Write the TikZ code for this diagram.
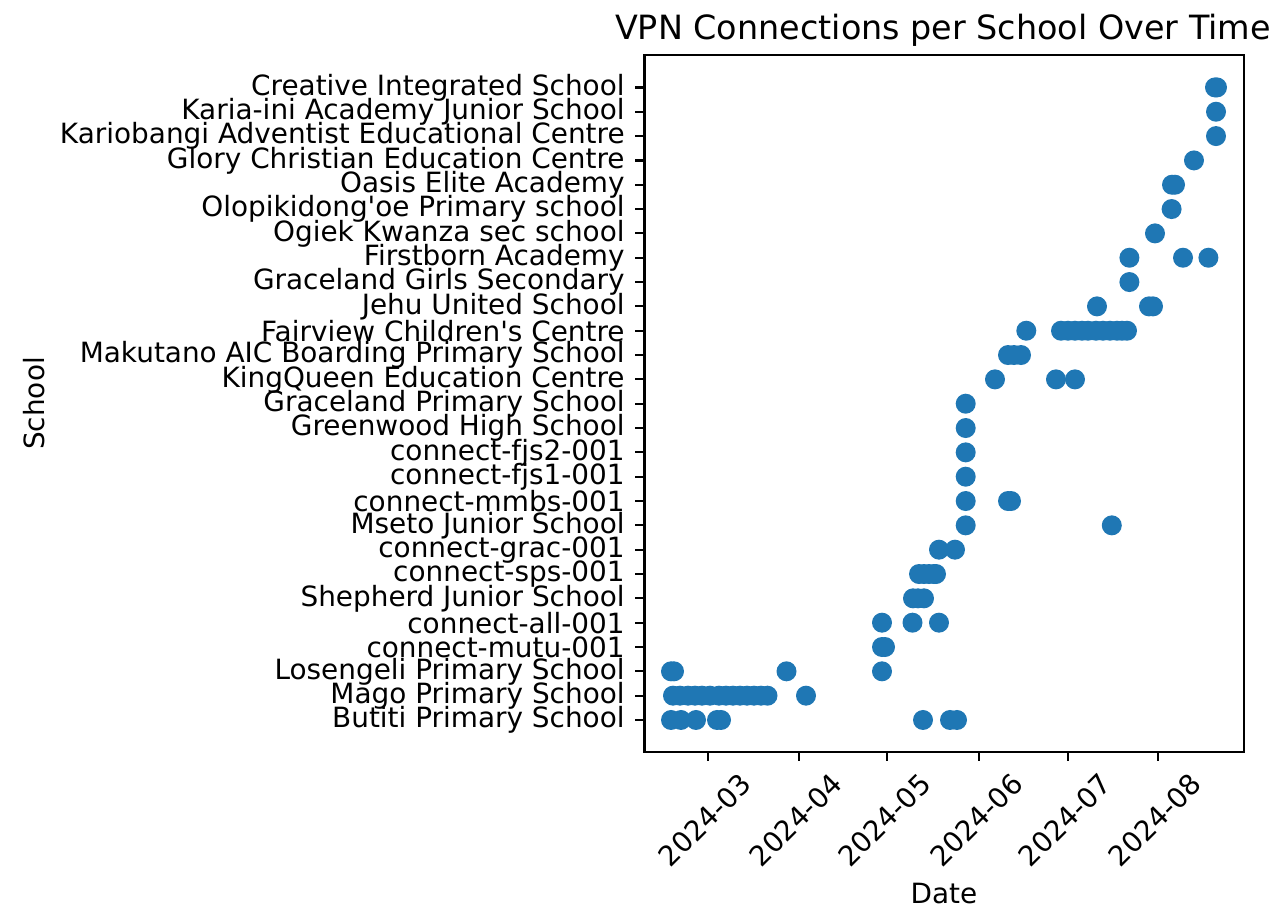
\documentclass[tikz,border=0pt]{standalone}
\usepackage{fontspec}
\setmainfont{DejaVu Sans}[Ligatures=TeXOff]
\definecolor{mplblue}{HTML}{1F77B4}
\begin{document}
\begin{tikzpicture}[x=0.5pt,y=-0.5pt,
  ticklab/.style={font=\fontsize{13.95}{16}\selectfont, inner sep=0pt, text=black},
  titlelab/.style={font=\fontsize{16.7}{19}\selectfont, inner sep=0pt},
  axisline/.style={line width=1.1pt, black},
  tickmark/.style={line width=1.1pt, black},
  datadot/.style={fill=mplblue}]
\path[use as bounding box] (0,0) rectangle (1282,908);
% axes frame
\coordinate (axNW) at (644.5,55);
\coordinate (axSE) at (1244,752);
% data points
\foreach \r/\xs in {
  26/{1215,1217},
  25/{1216},
  24/{1216},
  23/{1194},
  22/{1172,1175},
  21/{1171.6},
  20/{1155},
  19/{1129.4,1183,1208.4},
  18/{1129.4},
  17/{1097,1149,1153},
  16/{1026.3,1061,1068,1075,1082,1088,1096,1103,1110,1117,1122,1127},
  15/{1008,1014,1021},
  14/{995,1056,1075},
  13/{965.7},
  12/{965.7},
  11/{965.7},
  10/{965.7},
  9/{965.7,1008,1011},
  8/{965.7,1111.8},
  7/{939,955},
  6/{919,924,929,934,936},
  5/{913,918,924},
  4/{882,912.5,939},
  3/{882,885},
  2/{671,674,786.5,882},
  1/{673,680,688,695,702,710,719,726,733,740,747,754,761,767.5,806},
  0/{671,681,696,717,721,923,950,957}}
{
  \foreach \x in \xs {
    \fill[datadot] (\x,{720-24.33*\r}) circle[radius=10];
  }
}
\draw[axisline] (axNW) rectangle (axSE);
% y ticks and labels
\foreach \i/\name in {
  0/Butiti Primary School,
  1/Mago Primary School,
  2/Losengeli Primary School,
  3/connect-mutu-001,
  4/connect-all-001,
  5/Shepherd Junior School,
  6/connect-sps-001,
  7/connect-grac-001,
  8/Mseto Junior School,
  9/connect-mmbs-001,
  10/connect-fjs1-001,
  11/connect-fjs2-001,
  12/Greenwood High School,
  13/Graceland Primary School,
  14/KingQueen Education Centre,
  15/Makutano AIC Boarding Primary School,
  16/Fairview Children's Centre,
  17/Jehu United School,
  18/Graceland Girls Secondary,
  19/Firstborn Academy,
  20/Ogiek Kwanza sec school,
  21/Olopikidong'oe Primary school,
  22/Oasis Elite Academy,
  23/Glory Christian Education Centre,
  24/Kariobangi Adventist Educational Centre,
  25/Karia-ini Academy Junior School,
  26/Creative Integrated School}
{
  \coordinate (yt\i) at (644.5,{720-24.33*\i});
  \draw[tickmark] (yt\i) -- ++(-9.5,0);
  \node[ticklab, anchor=east] (yl\i) at (625,{720-24.33*\i}) {\name};
}
% x ticks and labels
\foreach \x/\lab [count=\k] in {708/2024-03, 798.8/2024-04, 887.2/2024-05, 979.2/2024-06, 1068/2024-07, 1158/2024-08}
{
  \coordinate (xt\k) at (\x,752);
  \draw[tickmark] (xt\k) -- ++(0,9.5);
  \node[ticklab, rotate=45] (xl\k) at ({\x-3},820) {\lab};
}
% titles
\node[titlelab] (title) at (943,30) {VPN Connections per School Over Time};
\node[ticklab] (xlabel) at (944,894) {Date};
\node[ticklab, rotate=90] (ylabel) at (34,403.5) {School};
\end{tikzpicture}
\end{document}
